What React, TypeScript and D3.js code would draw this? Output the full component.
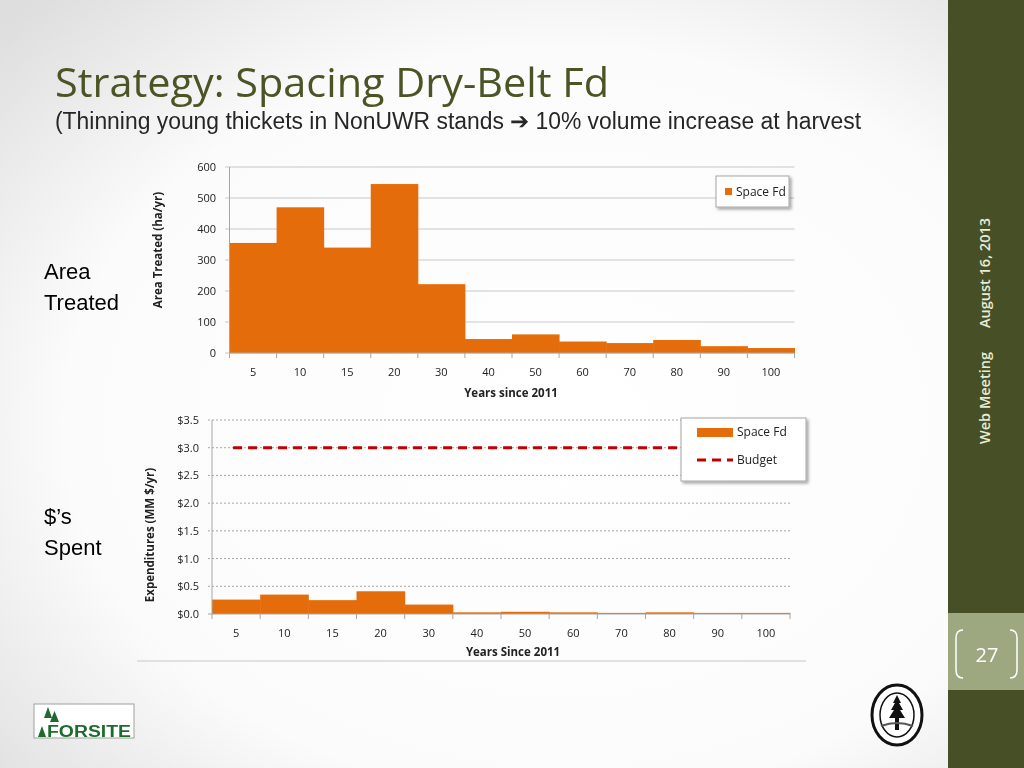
import React from "react";
import * as d3 from "d3";

const categories = ["5", "10", "15", "20", "30", "40", "50", "60", "70", "80", "90", "100"];
const areaTreated = [355, 470, 340, 545, 222, 45, 60, 37, 32, 42, 22, 16];
const expenditures = [0.26, 0.35, 0.25, 0.41, 0.17, 0.03, 0.04, 0.03, 0.02, 0.03, 0.02, 0.02];
const budget = 3.0;
const areaTicks = [0, 100, 200, 300, 400, 500, 600];
const expTicks = [0, 0.5, 1.0, 1.5, 2.0, 2.5, 3.0, 3.5];

const ORANGE = "#e46c0a";
const CHART_FONT = "'Open Sans', 'Noto Sans', sans-serif";

export default function App() {
  // top chart
  const x1 = d3.scaleBand().domain(categories).range([229.5, 794.5]).padding(0);
  const y1 = d3.scaleLinear().domain([0, 600]).range([353, 167]);
  // bottom chart
  const x2 = d3.scaleBand().domain(categories).range([212, 790]).padding(0);
  const y2 = d3.scaleLinear().domain([0, 3.5]).range([614, 420]);

  const budgetLine = d3.line<string>()
    .x((d) => (x2(d) as number) + x2.bandwidth() / 2)
    .y(() => y2(budget));

  const boundaries1 = categories.map((c) => x1(c) as number).concat([x1.range()[1]]);
  const boundaries2 = categories.map((c) => x2(c) as number).concat([x2.range()[1]]);

  return (
    <div style={{ position: "fixed", left: 0, top: 0, width: 1024, height: 768 }}>
      <svg width={1024} height={768} viewBox="0 0 1024 768" style={{ display: "block" }}>
        <defs>
          <radialGradient id="bg" cx="55%" cy="55%" r="75%">
            <stop offset="0%" stopColor="#ffffff" />
            <stop offset="65%" stopColor="#fbfbfb" />
            <stop offset="100%" stopColor="#dedede" />
          </radialGradient>
          <filter id="shadow" x="-20%" y="-20%" width="150%" height="160%">
            <feDropShadow dx="2" dy="2" stdDeviation="1.5" floodColor="#000" floodOpacity="0.35" />
          </filter>
        </defs>
        <rect x={0} y={0} width={1024} height={768} fill="url(#bg)" />

        {/* Sidebar */}
        <rect x={948} y={0} width={76} height={768} fill="#474f27" />
        <rect x={948} y={613} width={76} height={77} fill="#9da880" />
        <text transform="translate(990,273) rotate(-90)" textAnchor="middle" fontFamily="'Open Sans', sans-serif" fontSize={14.5} fontWeight={600} fill="#e8ebd6">August 16, 2013</text>
        <text transform="translate(990,398) rotate(-90)" textAnchor="middle" fontFamily="'Open Sans', sans-serif" fontSize={14.5} fontWeight={600} fill="#e8ebd6">Web Meeting</text>
        <path d="M963,630 Q956,630 956,638 L956,670 Q956,678 963,678" fill="none" stroke="#ffffff" strokeWidth={1.5} />
        <path d="M1010,630 Q1017,630 1017,638 L1017,670 Q1017,678 1010,678" fill="none" stroke="#ffffff" strokeWidth={1.5} />
        <text x={987} y={662} textAnchor="middle" fontFamily="'Open Sans', sans-serif" fontSize={20} fill="#ffffff">27</text>

        {/* Titles */}
        <text x={55} y={97} fontFamily="'Open Sans', sans-serif" fontSize={40} fill="#4b5424" textLength={554} lengthAdjust="spacingAndGlyphs">Strategy: Spacing Dry-Belt Fd</text>
        <text x={55} y={129} fontFamily="'Liberation Sans Narrow', 'Liberation Sans', Arial, sans-serif" fontSize={23} fill="#262626" textLength={806} lengthAdjust="spacingAndGlyphs">(Thinning  young thickets in NonUWR stands ➔ 10% volume increase at harvest</text>

        {/* Side labels */}
        <g fontFamily="'Liberation Sans', Arial, sans-serif" fontSize={22} fill="#000">
          <text x={44} y={279}>Area</text>
          <text x={44} y={310}>Treated</text>
          <text x={44} y={524}>$’s</text>
          <text x={44} y={555}>Spent</text>
        </g>

        {/* ===== Top chart ===== */}
        <g fontFamily={CHART_FONT}>
          {areaTicks.map((t) => (
            <g key={t}>
              <line x1={225} x2={794.5} y1={y1(t)} y2={y1(t)} stroke="#c8c8c8" strokeWidth={1} />
              <text x={216} y={y1(t) + 4} textAnchor="end" fontSize={11} fill="#222">{t}</text>
            </g>
          ))}
          {categories.map((c, i) => (
            <rect key={c} x={x1(c) as number} y={y1(areaTreated[i])} width={x1.bandwidth() + 0.5} height={y1(0) - y1(areaTreated[i])} fill={ORANGE} />
          ))}
          <line x1={229.5} x2={229.5} y1={167} y2={353} stroke="#a6a6a6" />
          <line x1={229.5} x2={794.5} y1={353} y2={353} stroke="#a6a6a6" />
          {boundaries1.map((b, i) => (
            <line key={i} x1={b} x2={b} y1={353} y2={358} stroke="#a6a6a6" />
          ))}
          {categories.map((c) => (
            <text key={c} x={(x1(c) as number) + x1.bandwidth() / 2} y={376} textAnchor="middle" fontSize={11} fill="#222">{c}</text>
          ))}
          <text x={511} y={397} textAnchor="middle" fontSize={11.5} fontWeight={700} fill="#222">Years since 2011</text>
          <text transform="translate(162,250) rotate(-90)" textAnchor="middle" fontSize={11.5} fontWeight={700} fill="#222">Area Treated (ha/yr)</text>
          {/* legend */}
          <rect x={716} y={176} width={73} height={31} fill="#fff" stroke="#a6a6a6" filter="url(#shadow)" />
          <rect x={725} y={188} width={7} height={7} fill={ORANGE} />
          <text x={736} y={196} fontSize={12} fill="#222">Space Fd</text>
        </g>

        {/* ===== Bottom chart ===== */}
        <g fontFamily={CHART_FONT}>
          {expTicks.map((t) => (
            <g key={t}>
              {t > 0 && <line x1={208} x2={790} y1={y2(t)} y2={y2(t)} stroke="#a6a6a6" strokeWidth={1} strokeDasharray="2,2" />}
              <text x={199} y={y2(t) + 4} textAnchor="end" fontSize={11} fill="#222">{"$" + t.toFixed(1)}</text>
            </g>
          ))}
          {categories.map((c, i) => (
            <rect key={c} x={x2(c) as number} y={y2(expenditures[i])} width={x2.bandwidth() + 0.5} height={y2(0) - y2(expenditures[i])} fill={ORANGE} />
          ))}
          <line x1={212} x2={212} y1={420} y2={614} stroke="#a6a6a6" />
          <line x1={208} x2={790} y1={614} y2={614} stroke="#a6a6a6" />
          {boundaries2.map((b, i) => (
            <line key={i} x1={b} x2={b} y1={614} y2={619} stroke="#a6a6a6" />
          ))}
          <path d={budgetLine(categories) as string} fill="none" stroke="#c00000" strokeWidth={3} strokeDasharray="9,6" transform="translate(-3,0)" />
          {categories.map((c) => (
            <text key={c} x={(x2(c) as number) + x2.bandwidth() / 2} y={637} textAnchor="middle" fontSize={11} fill="#222">{c}</text>
          ))}
          <text x={513} y={656} textAnchor="middle" fontSize={11.5} fontWeight={700} fill="#222">Years Since 2011</text>
          <text transform="translate(154,535) rotate(-90)" textAnchor="middle" fontSize={11.5} fontWeight={700} fill="#222">Expenditures (MM $/yr)</text>
          {/* legend */}
          <rect x={681} y={418} width={125} height={63} fill="#fff" stroke="#a6a6a6" filter="url(#shadow)" />
          <rect x={697} y={428} width={36} height={9} fill={ORANGE} />
          <text x={737} y={436} fontSize={12} fill="#222">Space Fd</text>
          <line x1={697} x2={733} y1={460} y2={460} stroke="#c00000" strokeWidth={3} strokeDasharray="9,6" />
          <text x={737} y={464} fontSize={12} fill="#222">Budget</text>
          <line x1={137} x2={806} y1={661} y2={661} stroke="#d9d9d9" strokeWidth={1.5} />
        </g>

        {/* FORSITE logo */}
        <g>
          <rect x={34} y={704} width={100} height={34} fill="#ffffff" stroke="#a0a0a0" strokeWidth={1} />
          <polygon points="44,718 48,707 52,718" fill="#1e6b2e" />
          <polygon points="50,722 54.5,711 59,722" fill="#1e6b2e" />
          <polygon points="38,737 42,726 46,737" fill="#1e6b2e" />
          <text x={47} y={737} fontFamily="'Liberation Sans', Arial, sans-serif" fontSize={16} fontWeight={700} fill="#1e6b2e" textLength={84} lengthAdjust="spacingAndGlyphs">FORSITE</text>
        </g>

        {/* BC Forest Service seal */}
        <g>
          <ellipse cx={897} cy={715} rx={25} ry={30} fill="#ffffff" stroke="#111" strokeWidth={3} />
          <ellipse cx={897} cy={715} rx={17} ry={22} fill="#ffffff" stroke="#111" strokeWidth={1.5} />
          <polygon points="897,695 901,703 899,703 903,710 900,710 905,718 899,718 899,730 895,730 895,718 889,718 894,710 891,710 895,703 893,703" fill="#111" />
          <path d="M881,726 Q897,720 913,726" fill="none" stroke="#555" strokeWidth={2} />
        </g>
      </svg>
    </div>
  );
}
